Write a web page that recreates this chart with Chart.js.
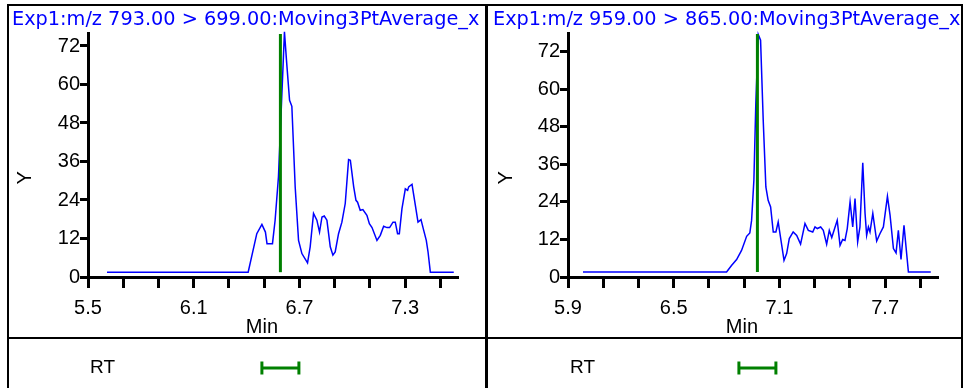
<!DOCTYPE html>
<html>
<head>
<meta charset="utf-8">
<script src="https://cdn.jsdelivr.net/npm/chart.js@4.4.0/dist/chart.umd.min.js"></script>
<style>
  body { margin: 0; background: #fff; width: 966px; height: 388px; overflow: hidden; position: relative; }
  .rule { position: absolute; background: #000; }
  canvas { position: absolute; }
</style>
</head>
<body>
<div class="rule" style="left:7px;top:4px;width:955px;height:2px"></div>
<div class="rule" style="left:7px;top:4px;width:2px;height:400px"></div>
<div class="rule" style="left:485px;top:4px;width:3px;height:400px"></div>
<div class="rule" style="left:961px;top:4px;width:2px;height:400px"></div>
<div class="rule" style="left:7px;top:337px;width:955px;height:2px"></div>

<canvas id="traceLeft" width="476" height="331" style="left:9px;top:6px"></canvas>
<canvas id="traceRight" width="473" height="331" style="left:488px;top:6px"></canvas>
<canvas id="rtLeft" width="476" height="56" style="left:9px;top:340px"></canvas>
<canvas id="rtRight" width="473" height="56" style="left:488px;top:340px"></canvas>

<script>
// chromatogram 1: m/z 793 > 699
const leftTitle = "Exp1:m/z 793.00 > 699.00:Moving3PtAverage_x";
const leftTimes = [5.608, 6.409, 6.458, 6.487, 6.507, 6.516, 6.547, 6.562, 6.581, 6.615, 6.628, 6.644,
  6.657, 6.676, 6.695, 6.714, 6.746, 6.761, 6.780, 6.799, 6.814, 6.828, 6.841, 6.856, 6.875, 6.890,
  6.903, 6.922, 6.941, 6.960, 6.979, 6.989, 7.008, 7.021, 7.030, 7.045, 7.060, 7.083, 7.097, 7.112,
  7.140, 7.159, 7.178, 7.197, 7.212, 7.231, 7.244, 7.257, 7.267, 7.282, 7.301, 7.314, 7.320, 7.339,
  7.358, 7.373, 7.390, 7.405, 7.420, 7.430, 7.443, 7.576];
const leftCounts = [1.5, 1.5, 13.5, 16.4, 14.0, 10.4, 10.4, 17.7, 31.2, 76.4, 66.5, 55.1,
  53.2, 28.0, 11.4, 7.3, 4.4, 9.4, 19.8, 17.7, 14.0, 18.7, 19.0, 17.7, 9.4, 6.8,
  7.8, 13.5, 17.1, 22.9, 36.6, 36.4, 28.1, 23.9, 23.3, 20.8, 21.0, 19.2, 16.6, 15.4,
  11.4, 13.0, 15.8, 15.4, 15.4, 17.1, 17.1, 13.5, 13.5, 21.3, 27.5, 27.0, 28.1, 28.9,
  22.3, 17.1, 17.9, 14.6, 11.4, 7.8, 1.5, 1.5];
const leftXTicks = [5.5, 5.7, 5.9, 6.1, 6.3, 6.5, 6.7, 6.9, 7.1, 7.3, 7.5];
const leftXLabels = ["5.5", "6.1", "6.7", "7.3"];

// chromatogram 2: m/z 959 > 865
const rightTitle = "Exp1:m/z 959.00 > 865.00:Moving3PtAverage_x";
const rightTimes = [5.985, 6.800, 6.828, 6.857, 6.885, 6.914, 6.932, 6.942, 6.955, 6.966, 6.980, 6.993,
  7.008, 7.023, 7.036, 7.050, 7.065, 7.080, 7.093, 7.126, 7.141, 7.156, 7.178, 7.198, 7.220, 7.245,
  7.264, 7.289, 7.302, 7.315, 7.334, 7.349, 7.368, 7.383, 7.397, 7.428, 7.444, 7.459, 7.472, 7.485,
  7.501, 7.516, 7.529, 7.544, 7.557, 7.573, 7.586, 7.595, 7.605, 7.614, 7.630, 7.652, 7.671, 7.690,
  7.713, 7.728, 7.747, 7.762, 7.775, 7.790, 7.807, 7.832, 7.959];
const rightCounts = [1.6, 1.6, 3.7, 5.6, 8.5, 13.0, 14.1, 18.1, 30.9, 55.5, 77.5, 75.7,
  50.1, 28.8, 24.5, 22.4, 14.4, 14.4, 17.6, 5.3, 7.5, 12.3, 14.4, 13.3, 10.5, 17.1,
  14.9, 14.4, 16.0, 15.5, 16.0, 14.9, 10.5, 14.9, 12.6, 18.1, 10.1, 12.0, 11.7, 15.5,
  24.0, 16.0, 25.1, 11.2, 16.0, 36.5, 20.3, 13.3, 16.0, 14.4, 20.3, 11.5, 13.9, 16.0,
  25.8, 19.7, 9.1, 7.7, 14.9, 5.6, 16.5, 1.6, 1.6];
const rightXTicks = [5.9, 6.1, 6.3, 6.5, 6.7, 6.9, 7.1, 7.3, 7.5, 7.7, 7.9];
const rightXLabels = ["5.9", "6.5", "7.1", "7.7"];

const yTicks = [0, 12, 24, 36, 48, 60, 72];
const retentionTimes = [6.592, 6.975];
const rtHalfWindow = 0.105;

const GREEN = "#008000";
const BLUE = "#0000ff";
const FONT = { family: "'Liberation Sans', Arial, sans-serif", size: 20 };
const TITLE_FONT = { family: "'DejaVu Sans', Verdana, sans-serif", size: 19.3, weight: "normal", lineHeight: 1.2 };

function drawTrace(id, p) {
  return new Chart(document.getElementById(id), {
    type: "line",
    data: {
      datasets: [
        {
          data: [{ x: p.rt, y: p.base }, { x: p.rt, y: p.yMax }],
          borderColor: GREEN,
          borderWidth: 3
        },
        {
          data: p.times.map((t, i) => ({ x: t, y: p.counts[i] })),
          borderColor: BLUE,
          borderWidth: 1.5,
          clip: false
        }
      ]
    },
    options: {
      responsive: false,
      animation: false,
      layout: { padding: { left: p.padLeft, right: 0, top: 0, bottom: 0 } },
      elements: { point: { radius: 0 }, line: { tension: 0 } },
      plugins: {
        legend: { display: false },
        tooltip: { enabled: false },
        title: {
          display: true,
          text: p.title,
          align: "start",
          color: BLUE,
          font: TITLE_FONT,
          padding: { top: 2, bottom: 2.8 }
        }
      },
      scales: {
        x: {
          type: "linear",
          min: p.xMin,
          max: p.xMax,
          afterBuildTicks: s => { s.ticks = p.xTicks.map(v => ({ value: v })); },
          afterFit: s => { s.height = 60; },
          ticks: {
            autoSkip: false,
            maxRotation: 0,
            color: "#000",
            font: FONT,
            padding: 8,
            callback: v => p.xLabels.includes(v.toFixed(1)) ? v.toFixed(1) : ""
          },
          grid: { drawOnChartArea: false, tickLength: 11, tickWidth: 3, tickColor: "#000" },
          border: { color: "#000", width: 3 },
          title: { display: true, text: "Min    ", color: "#000", font: { ...FONT, lineHeight: 1 }, padding: 0 }
        },
        y: {
          min: 0,
          max: p.yMax,
          afterBuildTicks: s => { s.ticks = yTicks.map(v => ({ value: v })); },
          afterFit: s => { s.width = p.yWidth; },
          ticks: { color: "#000", font: FONT, padding: 0 },
          grid: { drawOnChartArea: false, tickLength: 8, tickWidth: 3, tickColor: "#000" },
          border: { color: "#000", width: 3 },
          title: { display: true, text: "Y        ", color: "#000", font: { ...FONT, lineHeight: 1.2 }, padding: { top: 1, bottom: 0 } }
        },
        // empty right-hand axis, only keeps the plot off the right edge
        // while the title can still use the full width
        yRight: {
          position: "right",
          afterFit: s => { s.width = p.padRight; },
          ticks: { display: false },
          grid: { display: false },
          border: { display: false }
        }
      }
    }
  });
}

function drawRtRow(id, p) {
  return new Chart(document.getElementById(id), {
    type: "line",
    data: {
      datasets: [{
        data: [{ x: p.rt - rtHalfWindow, y: "RT" }, { x: p.rt + rtHalfWindow, y: "RT" }],
        borderColor: GREEN,
        borderWidth: 3,
        pointStyle: "line",
        pointRotation: 90,
        pointRadius: 6.5,
        pointBorderColor: GREEN,
        pointBorderWidth: 3
      }]
    },
    options: {
      responsive: false,
      animation: false,
      layout: { padding: { left: p.padLeft, right: p.padRight, top: 0, bottom: 0 } },
      plugins: { legend: { display: false }, tooltip: { enabled: false } },
      scales: {
        x: { type: "linear", min: p.xMin, max: p.xMax, display: false },
        y: {
          type: "category",
          labels: ["RT"],
          offset: true,
          afterFit: s => { s.width = p.yWidth; },
          grid: { display: false },
          border: { display: false },
          ticks: { mirror: true, padding: 2, color: "#000", font: { ...FONT, size: 19 } }
        }
      }
    }
  });
}

const leftPanel = {
  title: leftTitle, times: leftTimes, counts: leftCounts,
  xTicks: leftXTicks, xLabels: leftXLabels,
  xMin: 5.5, xMax: 7.6, yMax: 75.75, base: 1.5, rt: retentionTimes[0],
  padLeft: 3, padRight: 27, yWidth: 76
};
const rightPanel = {
  title: rightTitle, times: rightTimes, counts: rightCounts,
  xTicks: rightXTicks, xLabels: rightXLabels,
  xMin: 5.9, xMax: 8.0, yMax: 77.7, base: 1.6, rt: retentionTimes[1],
  padLeft: 5, padRight: 23, yWidth: 75
};

drawTrace("traceLeft", leftPanel);
drawTrace("traceRight", rightPanel);
drawRtRow("rtLeft", leftPanel);
drawRtRow("rtRight", rightPanel);
</script>
</body>
</html>
